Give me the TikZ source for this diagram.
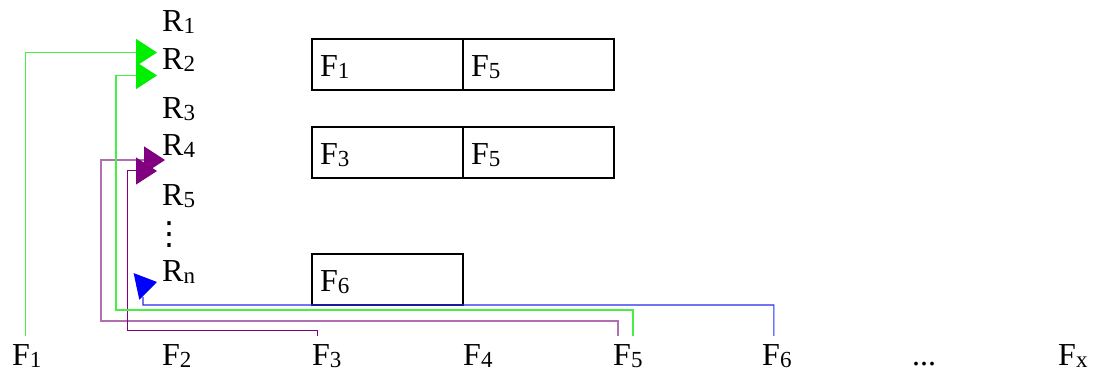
\documentclass[tikz,border=0pt]{standalone}
\usepackage{fontspec}
\setmainfont{Liberation Serif}
\newfontfamily\symbolfont{DejaVu Sans}
\usetikzlibrary{arrows.meta,positioning}
\definecolor{linkgreen}{HTML}{44F044}
\definecolor{tipgreen}{HTML}{00EE00}
\definecolor{linkviolet}{HTML}{B070B0}
\definecolor{linkpurple}{HTML}{800080}
\definecolor{linkblue}{HTML}{2828F0}
\newcommand\ix[1]{\raisebox{-2pt}{\fontsize{23}{23}\selectfont #1}}

\begin{document}
\begin{tikzpicture}[
  x=1pt,
  y=-1pt,
  every node/.style={font=\fontsize{32}{38}\selectfont},
  rlabel/.style={anchor=base west,inner sep=0pt},
  flabel/.style={anchor=base west,inner xsep=0pt,inner ysep=9pt},
  cell/.style={draw=black,line width=1.4pt,outer sep=0pt,inner xsep=8pt,
    text width=135pt,align=left,minimum height=51pt,text height=25pt,text depth=1pt},
  greenlink/.style={draw=linkgreen,line width=1.3pt,
    -{Triangle[length=21pt,width=27pt,color=tipgreen]}},
  violetlink/.style={draw=linkviolet,line width=1.6pt,
    -{Triangle[length=21pt,width=27pt,color=linkpurple]}},
  purplelink/.style={draw=linkpurple,line width=1pt,
    -{Triangle[length=21pt,width=27pt,color=linkpurple]}},
  bluelink/.style={draw=linkblue,line width=1.2pt,
    -{Triangle[length=21pt,width=27pt,color=blue]}}
]
  \useasboundingbox (0,0) rectangle (1093,371);

  % Rows of the table on the left.
  \node[rlabel] (r1) at (162,32) {R\ix{1}};
  \node[rlabel] (r2) at (162,70) {R\ix{2}};
  \node[rlabel] (r3) at (162,119) {R\ix{3}};
  \node[rlabel] (r4) at (162,156) {R\ix{4}};
  \node[rlabel] (r5) at (162,206) {R\ix{5}};
  \node[anchor=base,inner sep=0pt,font=\symbolfont\fontsize{32}{32}\selectfont] (rdots) at (169,245) {⋮};
  \node[rlabel] (rn) at (162,282) {R\ix{n}};

  % Entries stored for the rows.
  \node[cell] (c1a) at (387.5,64.5) {F\ix{1}};
  \node[cell,right=0pt of c1a] (c1b) {F\ix{5}};
  \node[cell,below=37pt of c1a] (c2a) {F\ix{3}};
  \node[cell,right=0pt of c2a] (c2b) {F\ix{5}};
  \node[cell,below=76pt of c2a] (c3a) {F\ix{6}};

  % Items along the bottom.
  \node[flabel] (f1) at (12,366) {F\ix{1}};
  \node[flabel] (f2) at (162,366) {F\ix{2}};
  \node[flabel] (f3) at (312,366) {F\ix{3}};
  \node[flabel] (f4) at (463,366) {F\ix{4}};
  \node[flabel] (f5) at (613,366) {F\ix{5}};
  \node[flabel] (f6) at (762,366) {F\ix{6}};
  \node[flabel] (fdots) at (912,366) {...};
  \node[flabel] (fx) at (1058,366) {F\ix{x}};

  % Arrow tips next to the row labels.
  \coordinate (tipga) at (157,52.5);
  \coordinate (tipgb) at (157,75.5);
  \coordinate (tippa) at (165,160);
  \coordinate (tippb) at (157,171);
  \coordinate (tipb) at (157,282);

  % Links from the items up to the rows.
  \draw[violetlink] ([xshift=-10pt]f5.north) |- (101,321) |- (tippa);
  \draw[purplelink] ([xshift=-9pt]f3.north) |- (127,331) |- (tippb);
  \draw[greenlink] ([xshift=-1.5pt]f1.north) |- (tipga);
  \draw[greenlink] ([xshift=5pt]f5.north) |- (116,310) |- (tipgb);
  \draw[bluelink] ([xshift=-3pt]f6.north) |- (143,305) -- (143,297) (136.5,286.4) -- (tipb);
\end{tikzpicture}
\end{document}
